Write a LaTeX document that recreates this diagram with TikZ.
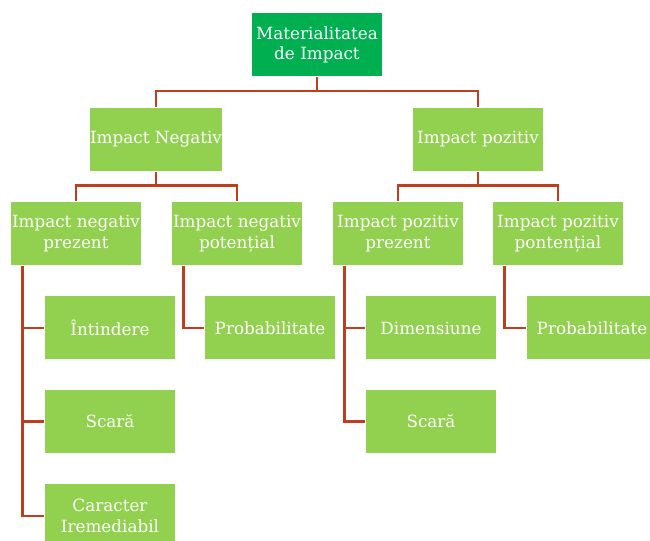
\documentclass[tikz,border=0pt]{standalone}
\usepackage{fontspec}
\setmainfont{DejaVu Serif}
\usepackage{xcolor}
\definecolor{rootgreen}{RGB}{0,176,80}
\definecolor{leafgreen}{RGB}{146,208,80}
\definecolor{linkred}{RGB}{190,62,30}

\begin{document}
\begin{tikzpicture}[x=0.75pt,y=-0.75pt,thick,
    main node/.style={rectangle,fill=leafgreen,text=white,minimum width=97.5pt,minimum height=47.25pt,inner sep=0pt,align=center,font=\fontsize{12.6}{15.5}\selectfont},
    root node/.style={main node,fill=rootgreen},
    link/.style={draw=linkred,line width=2.1pt}]
    \clip (0,0) rectangle (650,541);
                \node[root node] (mat) at (317,45) {Materialitatea\\de Impact};
                \node[main node] (neg) at (156,139.5) {Impact Negativ};
                \node[main node] (poz) at (478,139.5) {Impact pozitiv};
                \node[main node] (nprez) at (76,233.5) {Impact negativ\\prezent};
                \node[main node] (npot) at (237,233.5) {Impact negativ\\potențial};
                \node[main node] (pprez) at (398,233.5) {Impact pozitiv\\prezent};
                \node[main node] (ppot) at (558,233.5) {Impact pozitiv\\pontențial};
                \node[main node] (intind) at (110,328) {Întindere};
                \node[main node] (nscara) at (110,421.5) {Scară};
                \node[main node] (carac) at (110,516) {Caracter\\Iremediabil};
                \node[main node] (nprob) at (270,328) {Probabilitate};
                \node[main node] (dim) at (431,328) {Dimensiune};
                \node[main node] (pscara) at (431,421.5) {Scară};
                \node[main node] (pprob) at (592,328) {Probabilitate};

                \draw[link] (mat.south) -- ++(0,14) -| (neg.north);
                \draw[link] (mat.south) -- ++(0,14) -| (poz.north);
                \draw[link] (neg.south) -- ++(0,14) -| (nprez.north);
                \draw[link] (neg.south) -- ++(0,14) -| (npot.north);
                \draw[link] (poz.south) -- ++(0,14) -| (pprez.north);
                \draw[link] (poz.south) -- ++(0,14) -| (ppot.north);
                \draw[link] ([xshift=9pt]nprez.south west) |- (carac.west);
                \draw[link] ([xshift=9pt]nprez.south west) |- (intind.west);
                \draw[link] ([xshift=9pt]nprez.south west) |- (nscara.west);
                \draw[link] ([xshift=9pt]npot.south west) |- (nprob.west);
                \draw[link] ([xshift=9pt]pprez.south west) |- (pscara.west);
                \draw[link] ([xshift=9pt]pprez.south west) |- (dim.west);
                \draw[link] ([xshift=9pt]ppot.south west) |- (pprob.west);
            \end{tikzpicture}
\end{document}
